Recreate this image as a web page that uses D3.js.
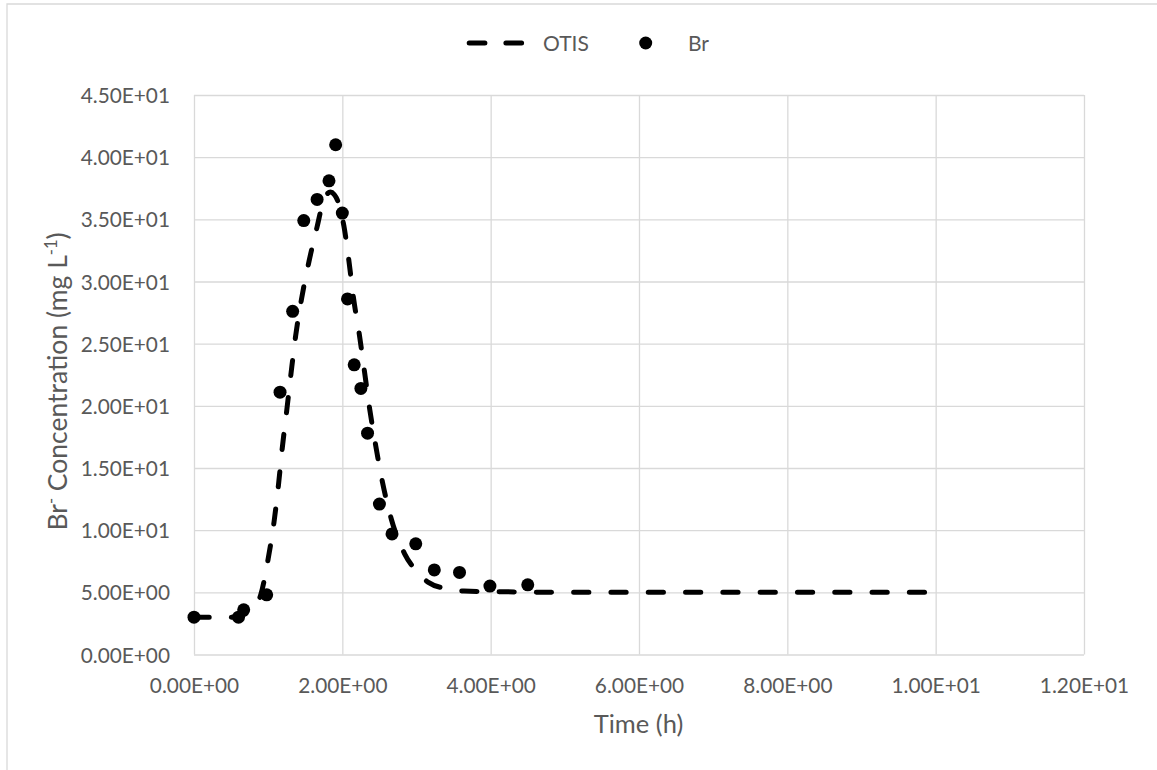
<!DOCTYPE html>
<html>
<head>
<meta charset="utf-8">
<script src="https://cdn.jsdelivr.net/npm/d3@7"></script>
<style>
  html, body { margin: 0; padding: 0; background: #ffffff; }
  svg { display: block; font-family: Lato, "Open Sans", sans-serif; }
</style>
</head>
<body>
<svg id="chart" width="1157" height="770"></svg>
<script>
// OTIS simulated bromide breakthrough curve (time in h, concentration in mg/L)
const otisTime = [0, 0.5, 0.6, 0.7, 0.8, 0.9, 1.0, 1.08, 1.14, 1.19, 1.25, 1.31, 1.37, 1.45, 1.55, 1.66,
  1.74, 1.79, 1.84, 1.89, 1.93, 1.98, 2.02, 2.09, 2.15, 2.23, 2.30, 2.37, 2.45, 2.54, 2.66, 2.84,
  3.0, 3.16, 3.4, 3.64, 4.15, 5, 6, 7, 8, 9, 10.1];
const otisConc = [3.0, 3.0, 3.05, 3.3, 3.8, 4.8, 7.7, 10.7, 13.7, 16.6, 19.6, 22.7, 25.6, 28.6, 31.6, 34.4,
  36.4, 37.0, 37.2, 37.0, 36.6, 35.6, 34.5, 31.6, 28.7, 25.7, 22.7, 19.7, 16.8, 13.9, 10.9, 8.1,
  6.7, 5.8, 5.3, 5.1, 5.05, 5.0, 5.0, 5.0, 5.0, 5.0, 5.0];

// Measured bromide samples
const brTime = [0, 0.6, 0.67, 0.98, 1.16, 1.33, 1.48, 1.66, 1.82, 1.91, 2.0, 2.07, 2.16, 2.25, 2.34,
  2.5, 2.67, 2.99, 3.24, 3.58, 3.99, 4.5];
const brConc = [3.0, 3.0, 3.6, 4.8, 21.1, 27.6, 34.9, 36.6, 38.1, 41.0, 35.5, 28.6, 23.3, 21.4, 17.8,
  12.1, 9.7, 8.9, 6.8, 6.6, 5.5, 5.6];

const xTicks = [0, 2, 4, 6, 8, 10, 12];
const yTicks = [0, 5, 10, 15, 20, 25, 30, 35, 40, 45];
const seriesNames = ["OTIS", "Br"];

const W = 1157, H = 770;
const plot = { left: 194, right: 1084, top: 95, bottom: 654.5 };
const textColor = "#595959";
const gridColor = "#d9d9d9";

// Excel-style scientific labels: 4.50E+01
const sci = v => {
  const [m, e] = v.toExponential(2).split("e");
  const n = +e;
  return m + "E" + (n < 0 ? "-" : "+") + String(Math.abs(n)).padStart(2, "0");
};

const svg = d3.select("#chart");

// chart frame
svg.append("path")
  .attr("d", `M7,${H}V4H${W}`)
  .attr("fill", "none")
  .attr("stroke", gridColor)
  .attr("stroke-width", 1.3);

const x = d3.scaleLinear().domain([0, 12]).range([plot.left, plot.right]);
const y = d3.scaleLinear().domain([0, 45]).range([plot.bottom, plot.top]);

// vertical gridlines + x tick labels
const xAxis = svg.append("g")
  .attr("transform", `translate(0,${plot.bottom})`)
  .call(d3.axisBottom(x).tickValues(xTicks).tickFormat(sci)
    .tickSize(-(plot.bottom - plot.top)).tickPadding(0));
xAxis.select(".domain").remove();
xAxis.selectAll(".tick line").attr("stroke", gridColor).attr("stroke-width", 1.3);
xAxis.selectAll(".tick text")
  .attr("dy", null).attr("y", 38.5)
  .attr("fill", textColor).style("font-size", "20.8px").style("font-family", "Lato, sans-serif");

// horizontal gridlines + y tick labels
const yAxis = svg.append("g")
  .attr("transform", `translate(${plot.left},0)`)
  .call(d3.axisLeft(y).tickValues(yTicks).tickFormat(sci)
    .tickSize(-(plot.right - plot.left)).tickPadding(0));
yAxis.select(".domain").remove();
yAxis.selectAll(".tick line").attr("stroke", gridColor).attr("stroke-width", 1.3);
yAxis.selectAll(".tick text")
  .attr("dy", null).attr("x", -24).attr("y", 7.5)
  .attr("fill", textColor).style("font-size", "20.8px").style("font-family", "Lato, sans-serif");

// axis titles
svg.append("text")
  .attr("x", 638.5).attr("y", 732.5)
  .attr("text-anchor", "middle")
  .attr("fill", textColor)
  .style("font-size", "25.5px")
  .text("Time (h)");

const yTitle = svg.append("text")
  .attr("transform", "translate(67,381.5) rotate(-90)")
  .attr("text-anchor", "middle")
  .attr("fill", textColor)
  .style("font-size", "26.5px");
yTitle.append("tspan").text("Br");
yTitle.append("tspan").attr("baseline-shift", "super").style("font-size", "16.5px").text("-");
yTitle.append("tspan").text(" Concentration (mg L");
yTitle.append("tspan").attr("baseline-shift", "super").style("font-size", "16.5px").text("-1");
yTitle.append("tspan").text(")");

// OTIS model curve
const otisData = otisTime.map((t, i) => [t, otisConc[i]]);
const line = d3.line()
  .x(d => x(d[0]))
  .y(d => y(d[1]))
  .curve(d3.curveMonotoneX);

const dash = "15.2,22.1";
svg.append("path")
  .datum(otisData)
  .attr("d", line)
  .attr("fill", "none")
  .attr("stroke", "#000")
  .attr("stroke-width", 5)
  .attr("stroke-linecap", "round")
  .attr("stroke-linejoin", "round")
  .attr("stroke-dasharray", dash);

// measured Br points
const brData = brTime.map((t, i) => [t, brConc[i]]);
svg.append("g")
  .selectAll("circle")
  .data(brData)
  .join("circle")
  .attr("cx", d => x(d[0]))
  .attr("cy", d => y(d[1]))
  .attr("r", 6.5)
  .attr("fill", "#000");

// legend
const legend = svg.append("g");
legend.append("line")
  .attr("x1", 469.2).attr("x2", 521.6).attr("y1", 43).attr("y2", 43)
  .attr("stroke", "#000").attr("stroke-width", 5)
  .attr("stroke-linecap", "round")
  .attr("stroke-dasharray", "15.7,21");
legend.append("text")
  .attr("x", 543).attr("y", 50.5)
  .attr("fill", textColor).style("font-size", "21px")
  .text(seriesNames[0]);
legend.append("circle")
  .attr("cx", 645.7).attr("cy", 43).attr("r", 6.5).attr("fill", "#000");
legend.append("text")
  .attr("x", 688).attr("y", 50.5)
  .attr("fill", textColor).style("font-size", "21px")
  .text(seriesNames[1]);
</script>
</body>
</html>
